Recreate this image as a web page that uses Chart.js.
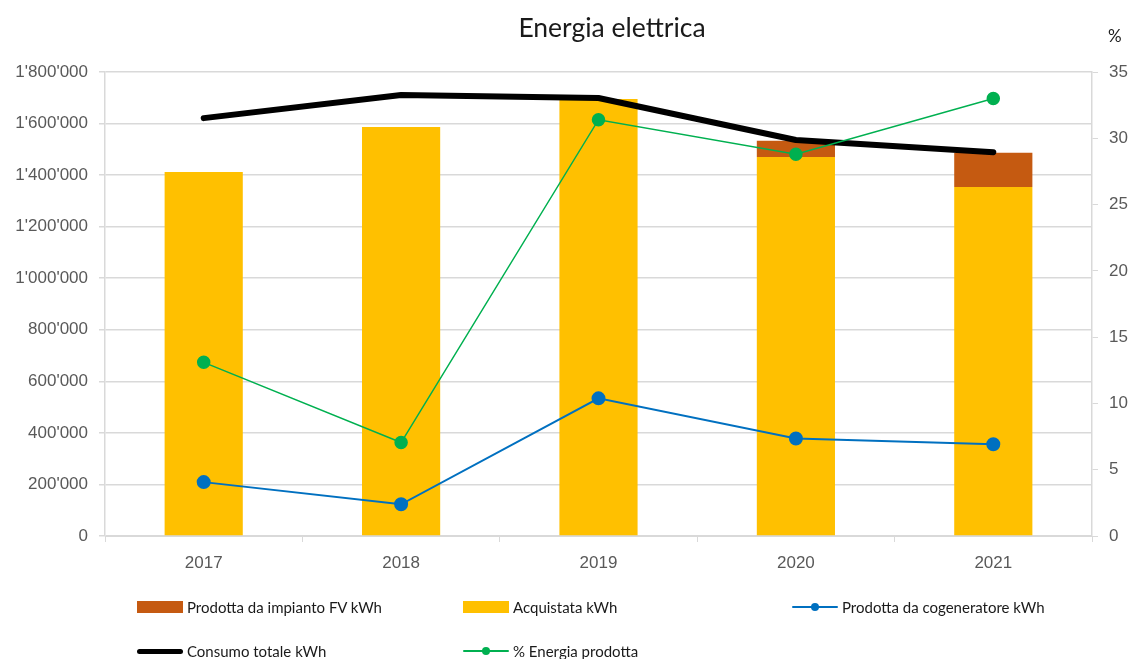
<!DOCTYPE html>
<html lang="it">
<head>
  <meta charset="UTF-8">
  <title>Energia elettrica</title>
  <style>
    body { margin: 0; background: #fff; font-family: Lato, "Open Sans", sans-serif; }
    .wrap { position: relative; width: 1131px; height: 659px; }
    #titolo {
      position: absolute; left: 0; width: 1224px; top: 11px;
      text-align: center; font-size: 26.5px; color: #1a1a1a;
    }
    #legenda {
      position: absolute; left: 137px; top: 596px;
      display: grid; grid-template-columns: 326px 329px 300px; grid-auto-rows: 44px;
      font-size: 15px; color: #1a1a1a;
    }
    .voce { display: flex; align-items: center; height: 22px; }
    .voce .sw { width: 46px; height: 12px; margin-right: 4px; position: relative; }
    .voce .ln { width: 46px; margin-right: 4px; position: relative; }
    .voce .dot { position: absolute; left: 19px; width: 8px; height: 8px; border-radius: 50%; }
  </style>
</head>
<body>
  <div class="wrap">
    <canvas id="grafico" width="1131" height="659"></canvas>
    <div id="titolo">Energia elettrica</div>
    <div id="legenda"></div>
  </div>

<script src="https://cdn.jsdelivr.net/npm/chart.js"></script>
<script>
  // dati
  const anni = ["2017", "2018", "2019", "2020", "2021"];
  const acquistata = [1412000, 1587000, 1695000, 1470000, 1354000];
  const prodottaFV = [0, 0, 0, 63000, 133000];
  const consumoTotale = [1621000, 1711000, 1699000, 1536000, 1489000];
  const cogeneratore = [209000, 123000, 534000, 378000, 356000];
  const percentualeProdotta = [13.1, 7.05, 31.4, 28.8, 33.0];

  const grigioTesto = '#595959';
  const grigioLinee = '#d9d9d9';

  function formatoApostrofo(v) {
    return v.toString().replace(/\B(?=(\d{3})+(?!\d))/g, "'");
  }

  // etichetta "%" sopra l'asse destro
  const pluginPercento = {
    id: 'percento',
    afterDraw(chart) {
      const ctx = chart.ctx;
      const y1 = chart.scales.y1;
      ctx.save();
      ctx.fillStyle = '#1a1a1a';
      ctx.font = '17px Lato, "Open Sans", sans-serif';
      ctx.textAlign = 'left';
      ctx.textBaseline = 'middle';
      ctx.fillText('%', y1.left + 16, 37);
      ctx.restore();
    }
  };

  const ctx = document.getElementById('grafico').getContext('2d');
  const grafico = new Chart(ctx, {
    type: 'bar',
    data: {
      labels: anni,
      datasets: [
        {
          label: 'Acquistata kWh',
          data: acquistata,
          backgroundColor: '#FFC000',
          stack: 'energia',
          yAxisID: 'y',
          order: 10,
          categoryPercentage: 0.8,
          barPercentage: 0.495
        },
        {
          label: 'Prodotta da impianto FV kWh',
          data: prodottaFV,
          backgroundColor: '#C55A11',
          stack: 'energia',
          yAxisID: 'y',
          order: 11,
          categoryPercentage: 0.8,
          barPercentage: 0.495
        },
        {
          type: 'line',
          label: 'Prodotta da cogeneratore kWh',
          data: cogeneratore,
          borderColor: '#0070C0',
          backgroundColor: '#0070C0',
          borderWidth: 2,
          pointRadius: 6,
          pointHoverRadius: 6,
          tension: 0,
          stack: 'cogen',
          yAxisID: 'y',
          order: 2
        },
        {
          type: 'line',
          label: 'Consumo totale kWh',
          data: consumoTotale,
          borderColor: '#000000',
          backgroundColor: '#000000',
          borderWidth: 6,
          borderCapStyle: 'round',
          borderJoinStyle: 'round',
          pointRadius: 0,
          tension: 0,
          stack: 'consumo',
          yAxisID: 'y',
          order: 3
        },
        {
          type: 'line',
          label: '% Energia prodotta',
          data: percentualeProdotta,
          borderColor: '#00B050',
          backgroundColor: '#00B050',
          borderWidth: 1.5,
          pointRadius: 6,
          pointHoverRadius: 6,
          tension: 0,
          stack: 'percento',
          yAxisID: 'y1',
          order: 1
        }
      ]
    },
    options: {
      responsive: false,
      animation: false,
      layout: { padding: { top: 72, left: 0, right: 0, bottom: 83 } },
      plugins: {
        legend: { display: false },
        title: { display: false },
        tooltip: { enabled: false }
      },
      scales: {
        x: {
          stacked: true,
          grid: {
            display: true, offset: true, drawOnChartArea: false,
            drawTicks: true, tickLength: 6, color: grigioLinee
          },
          border: { color: grigioLinee, width: 1 },
          ticks: { color: grigioTesto, font: { size: 17 }, padding: 11 },
          afterFit(scale) { scale.height = 40; }
        },
        y: {
          stacked: true,
          position: 'left',
          min: 0, max: 1800000,
          grid: { color: grigioLinee, tickLength: 6, lineWidth: 1.5 },
          border: { color: grigioLinee, width: 1.5 },
          ticks: {
            stepSize: 200000, color: grigioTesto, font: { size: 17 }, padding: 11,
            callback: v => formatoApostrofo(v)
          },
          afterFit(scale) { scale.width = 105; }
        },
        y1: {
          position: 'right',
          min: 0, max: 35,
          grid: { drawOnChartArea: false, color: grigioLinee, tickLength: 6 },
          border: { color: grigioLinee, width: 1.5 },
          ticks: { stepSize: 5, color: grigioTesto, font: { size: 17 }, padding: 11 },
          afterFit(scale) { scale.width = 39; }
        }
      }
    },
    plugins: [pluginPercento]
  });

  // legenda in HTML costruita dai dataset (ordine come nel grafico originale)
  const ordineLegenda = [1, 0, 2, 3, 4];
  const legenda = document.getElementById('legenda');
  ordineLegenda.forEach(i => {
    const ds = grafico.data.datasets[i];
    const voce = document.createElement('div');
    voce.className = 'voce';
    if (ds.type === 'line') {
      const ln = document.createElement('span');
      ln.className = 'ln';
      const spessore = ds.borderWidth >= 4 ? 5 : 2.5;
      ln.style.height = spessore + 'px';
      ln.style.background = ds.borderColor;
      ln.style.borderRadius = spessore + 'px';
      if (ds.pointRadius > 0) {
        const dot = document.createElement('span');
        dot.className = 'dot';
        dot.style.background = ds.borderColor;
        dot.style.top = (spessore / 2 - 4) + 'px';
        ln.appendChild(dot);
      }
      voce.appendChild(ln);
    } else {
      const sw = document.createElement('span');
      sw.className = 'sw';
      sw.style.background = ds.backgroundColor;
      voce.appendChild(sw);
    }
    const t = document.createElement('span');
    t.textContent = ds.label;
    voce.appendChild(t);
    legenda.appendChild(voce);
  });
</script>
</body>
</html>
